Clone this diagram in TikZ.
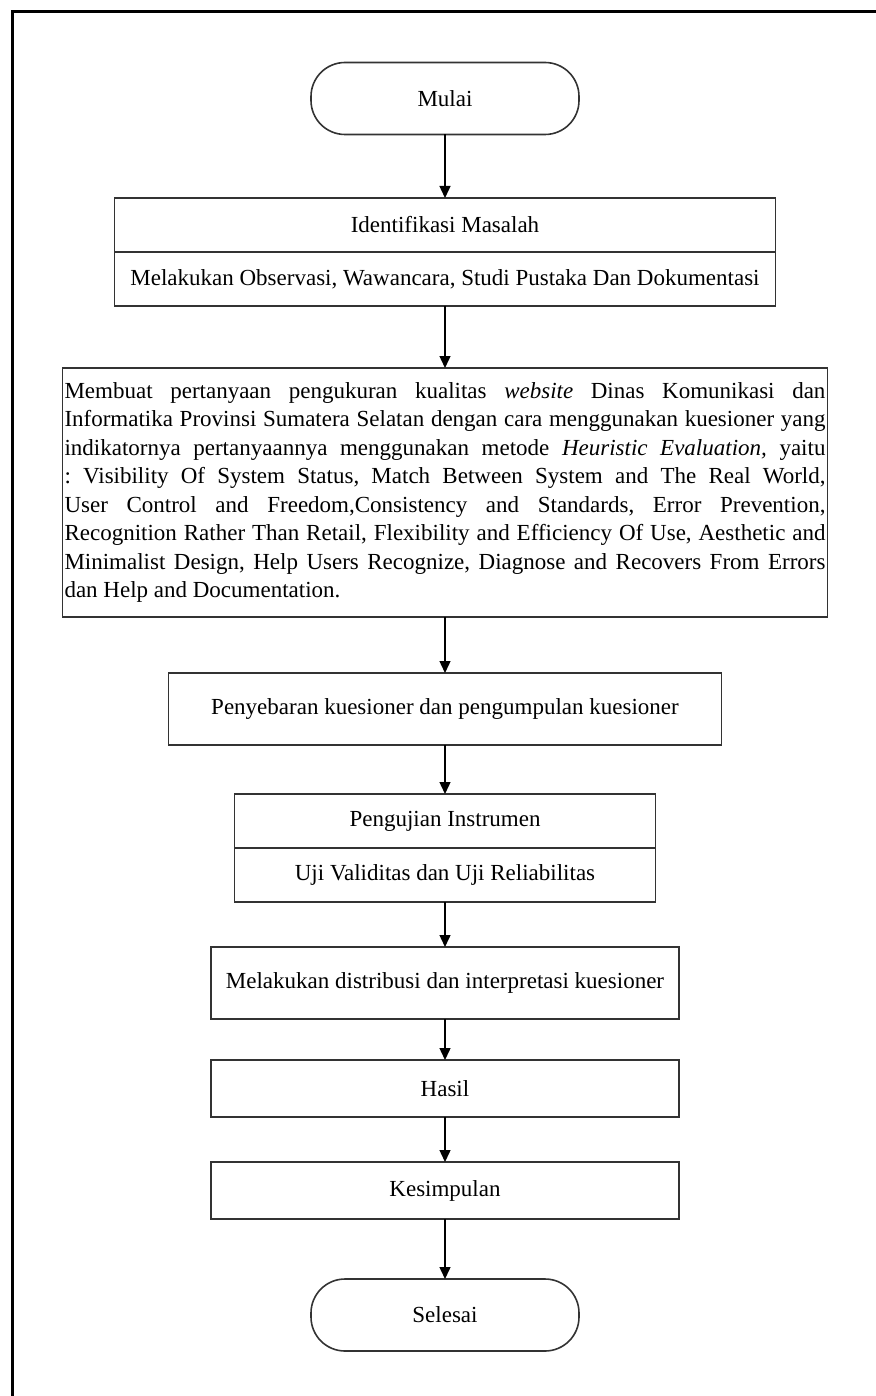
\documentclass[tikz,border=0pt]{standalone}
\usepackage{fontspec}
\setmainfont{Liberation Serif}
\usetikzlibrary{arrows.meta}
\begin{document}
\begin{tikzpicture}[x=1pt,y=-1pt,
  base/.style={draw=black!80, line width=1.6pt, inner sep=2pt, outer sep=0pt,
    font=\fontsize{23}{28.5}\selectfont\frenchspacing, align=center},
  proc/.style={base, rectangle, minimum width=#1},
  term/.style={base, rounded corners=34pt, minimum width=268pt, minimum height=72pt},
  arr/.style={-{Triangle[length=12pt,width=11pt]}, line width=1.4pt, black}]
\useasboundingbox (0,0) rectangle (875,1396);
\draw[line width=3pt, line cap=rect] (12,1400) -- (12,12) -- (880,12);

\node[term] (mulai) at (445,98.5) {Mulai};
\node[proc=661pt, minimum height=54pt] (id1) at (445,225) {Identifikasi Masalah};
\node[proc=661pt, minimum height=54pt, anchor=north] (id2) at (id1.south)
  {Melakukan Observasi, Wawancara, Studi Pustaka Dan Dokumentasi};
\node[base, text width=761pt, minimum height=249pt, align=justify] (big) at (445,492.5)
  {\tolerance=9999\hyphenpenalty=10000\frenchspacing
  Membuat pertanyaan pengukuran kualitas \textit{website} Dinas Komunikasi dan\linebreak
  Informatika Provinsi Sumatera Selatan dengan cara menggunakan kuesioner yang\linebreak
  indikatornya pertanyaannya menggunakan metode \textit{Heuristic Evaluation,} yaitu\linebreak
  : Visibility Of System Status, Match Between System and The Real World,\linebreak
  User Control and Freedom,Consistency and Standards, Error Prevention,\linebreak
  Recognition Rather Than Retail, Flexibility and Efficiency Of Use, Aesthetic and\linebreak
  Minimalist Design, Help Users Recognize, Diagnose and Recovers From Errors\linebreak
  dan Help and Documentation.};
\node[proc=553pt, minimum height=72pt] (peny) at (445,709)
  {Penyebaran kuesioner dan pengumpulan kuesioner};
\node[proc=421pt, minimum height=54pt] (pg1) at (445,821) {Pengujian Instrumen};
\node[proc=421pt, minimum height=54pt, anchor=north] (pg2) at (pg1.south)
  {Uji Validitas dan Uji Reliabilitas};
\node[proc=468pt, minimum height=72pt] (dist) at (445,983)
  {Melakukan distribusi dan interpretasi kuesioner};
\node[proc=468pt, minimum height=57pt] (hasil) at (445,1088.5) {Hasil};
\node[proc=468pt, minimum height=57pt] (kes) at (445,1190.5) {Kesimpulan};
\node[term] (sel) at (445,1315) {Selesai};

\draw[arr] (mulai) -- (id1);
\draw[arr] (id2) -- (big);
\draw[arr] (big) -- (peny);
\draw[arr] (peny) -- (pg1);
\draw[arr] (pg2) -- (dist);
\draw[arr] (dist) -- (hasil);
\draw[arr] (hasil) -- (kes);
\draw[arr] (kes) -- (sel);
\end{tikzpicture}
\end{document}
